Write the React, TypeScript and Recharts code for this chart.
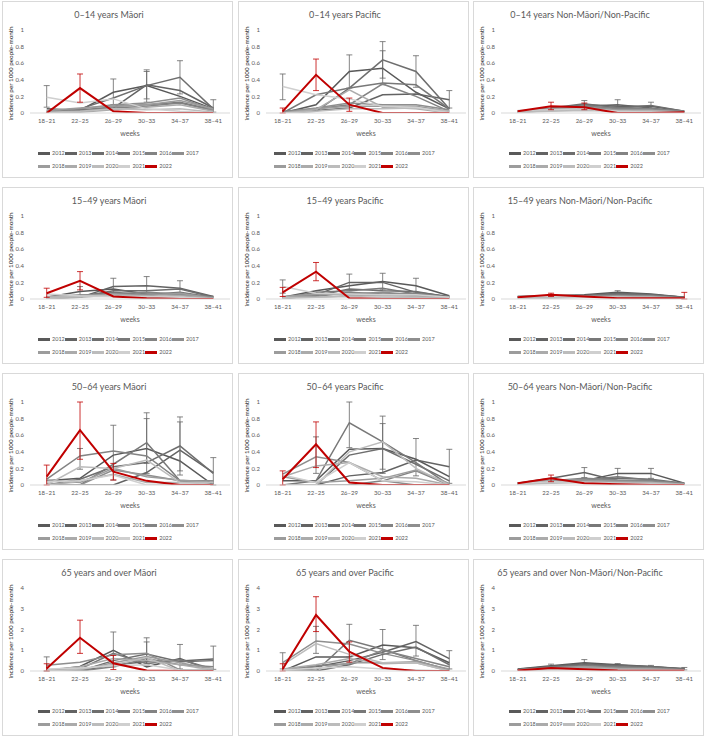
import React from "react";
import { ErrorBar, Legend, Line, LineChart, XAxis, YAxis } from "recharts";

type Err = [number, number] | null;

const weeks = ["18–21", "22–25", "26–29", "30–33", "34–37", "38–41"];
const years = [2012, 2013, 2014, 2015, 2016, 2017, 2018, 2019, 2020, 2021, 2022];
const yearColors = [
  "#595959", "#636363", "#6e6e6e", "#787878", "#838383", "#8e8e8e",
  "#9c9c9c", "#ababab", "#bcbcbc", "#cfcfcf", "#c00000",
];
const ticksToOne = [0, 0.2, 0.4, 0.6, 0.8, 1];
const ticksToFour = [0, 0.5, 1, 1.5, 2, 2.5, 3, 3.5, 4];

// one row per year, 2012 first, 2022 last
const maori0to14 = [
  [0.05, 0.03, 0.25, 0.33, 0.2, 0.05],
  [0.02, 0.04, 0.06, 0.34, 0.27, 0.06],
  [0.0, 0.05, 0.18, 0.33, 0.43, 0.05],
  [0.01, 0.02, 0.08, 0.1, 0.13, 0.04],
  [0.0, 0.03, 0.06, 0.08, 0.12, 0.03],
  [0.02, 0.05, 0.1, 0.12, 0.18, 0.04],
  [0.03, 0.06, 0.08, 0.1, 0.15, 0.05],
  [0.0, 0.01, 0.04, 0.07, 0.1, 0.02],
  [0.01, 0.02, 0.05, 0.04, 0.05, 0.01],
  [0.19, 0.12, 0.17, 0.05, 0.02, 0.0],
  [0.0, 0.3, 0.02, 0.0, 0.0, 0.0],
];
const maori0to14Err: Record<number, Err[]> = {
  2012: [null, null, [0.15, 0.16], [0.2, 0.19], null, null],
  2013: [null, null, null, [0.17, 0.16], null, [0.05, 0.1]],
  2014: [null, null, null, null, [0.2, 0.2], null],
  2021: [[0.12, 0.14], null, null, null, null, null],
  2022: [null, [0.17, 0.17], null, null, null, null],
};

const pacific0to14 = [
  [0.0, 0.1, 0.5, 0.54, 0.25, 0.05],
  [0.0, 0.03, 0.06, 0.22, 0.23, 0.16],
  [0.0, 0.02, 0.3, 0.64, 0.5, 0.05],
  [0.0, 0.22, 0.3, 0.36, 0.34, 0.05],
  [0.02, 0.05, 0.1, 0.35, 0.2, 0.02],
  [0.01, 0.06, 0.12, 0.1, 0.1, 0.04],
  [0.0, 0.05, 0.08, 0.08, 0.08, 0.02],
  [0.0, 0.04, 0.28, 0.07, 0.05, 0.0],
  [0.0, 0.02, 0.05, 0.05, 0.06, 0.02],
  [0.32, 0.22, 0.17, 0.08, 0.07, 0.0],
  [0.02, 0.46, 0.1, 0.0, 0.0, 0.0],
];
const pacific0to14Err: Record<number, Err[]> = {
  2012: [null, null, [0.2, 0.2], [0.2, 0.21], null, null],
  2013: [null, null, null, null, null, [0.1, 0.11]],
  2014: [null, null, null, [0.22, 0.22], [0.19, 0.19], null],
  2021: [[0.16, 0.15], null, null, null, null, null],
  2022: [[0.02, 0.04], [0.19, 0.19], [0.08, 0.08], null, null, null],
};

const other0to14 = [
  [0.02, 0.05, 0.1, 0.08, 0.08, 0.02],
  [0.01, 0.04, 0.08, 0.1, 0.06, 0.01],
  [0.02, 0.06, 0.11, 0.06, 0.09, 0.02],
  [0.01, 0.03, 0.05, 0.07, 0.05, 0.01],
  [0.02, 0.05, 0.09, 0.05, 0.05, 0.02],
  [0.01, 0.04, 0.07, 0.04, 0.04, 0.01],
  [0.02, 0.05, 0.06, 0.03, 0.03, 0.01],
  [0.01, 0.03, 0.04, 0.03, 0.03, 0.01],
  [0.01, 0.02, 0.03, 0.02, 0.02, 0.0],
  [0.03, 0.04, 0.05, 0.02, 0.01, 0.0],
  [0.02, 0.08, 0.07, 0.0, 0.0, 0.01],
];
const other0to14Err: Record<number, Err[]> = {
  2012: [null, null, null, [0.05, 0.08], [0.04, 0.05], null],
  2014: [null, null, [0.03, 0.04], null, null, null],
  2022: [null, [0.04, 0.05], [0.03, 0.05], null, null, null],
};

const maori15to49 = [
  [0.02, 0.09, 0.12, 0.06, 0.05, 0.03],
  [0.01, 0.02, 0.15, 0.16, 0.13, 0.03],
  [0.0, 0.03, 0.1, 0.1, 0.12, 0.02],
  [0.02, 0.04, 0.08, 0.05, 0.08, 0.02],
  [0.01, 0.03, 0.06, 0.08, 0.06, 0.02],
  [0.02, 0.05, 0.04, 0.06, 0.05, 0.01],
  [0.03, 0.04, 0.06, 0.04, 0.07, 0.01],
  [0.01, 0.02, 0.05, 0.03, 0.04, 0.01],
  [0.02, 0.03, 0.03, 0.02, 0.02, 0.0],
  [0.06, 0.04, 0.03, 0.03, 0.02, 0.0],
  [0.07, 0.22, 0.03, 0.01, 0.0, 0.0],
];
const maori15to49Err: Record<number, Err[]> = {
  2012: [null, [0.05, 0.06], null, null, null, null],
  2013: [null, null, [0.09, 0.1], [0.1, 0.11], [0.08, 0.09], null],
  2022: [[0.05, 0.06], [0.11, 0.11], null, null, null, null],
};

const pacific15to49 = [
  [0.02, 0.1, 0.16, 0.21, 0.16, 0.04],
  [0.0, 0.05, 0.2, 0.2, 0.08, 0.03],
  [0.02, 0.04, 0.12, 0.1, 0.09, 0.02],
  [0.01, 0.08, 0.1, 0.13, 0.06, 0.03],
  [0.02, 0.03, 0.08, 0.06, 0.07, 0.02],
  [0.01, 0.05, 0.06, 0.08, 0.05, 0.01],
  [0.03, 0.06, 0.05, 0.04, 0.04, 0.02],
  [0.01, 0.02, 0.04, 0.05, 0.03, 0.01],
  [0.02, 0.02, 0.03, 0.02, 0.02, 0.0],
  [0.15, 0.07, 0.06, 0.05, 0.05, 0.02],
  [0.08, 0.33, 0.01, 0.0, 0.0, 0.0],
];
const pacific15to49Err: Record<number, Err[]> = {
  2012: [null, null, null, [0.1, 0.1], [0.09, 0.09], null],
  2013: [null, null, [0.1, 0.1], null, null, null],
  2021: [[0.08, 0.08], null, null, null, null, null],
  2022: [[0.05, 0.06], [0.11, 0.11], null, null, null, null],
};

const other15to49 = [
  [0.03, 0.04, 0.05, 0.08, 0.06, 0.02],
  [0.02, 0.03, 0.04, 0.07, 0.05, 0.02],
  [0.03, 0.04, 0.04, 0.06, 0.05, 0.02],
  [0.02, 0.03, 0.04, 0.05, 0.04, 0.01],
  [0.02, 0.03, 0.03, 0.04, 0.04, 0.01],
  [0.02, 0.02, 0.03, 0.04, 0.03, 0.01],
  [0.02, 0.03, 0.03, 0.03, 0.03, 0.01],
  [0.01, 0.02, 0.02, 0.03, 0.02, 0.01],
  [0.01, 0.01, 0.02, 0.02, 0.02, 0.0],
  [0.03, 0.03, 0.02, 0.02, 0.01, 0.0],
  [0.02, 0.05, 0.03, 0.01, 0.01, 0.01],
];
const other15to49Err: Record<number, Err[]> = {
  2012: [null, null, null, [0.02, 0.02], null, null],
  2022: [null, [0.02, 0.02], null, null, null, [0.01, 0.07]],
};

const maori50to64 = [
  [0.05, 0.08, 0.36, 0.44, 0.29, 0.0],
  [0.0, 0.0, 0.0, 0.15, 0.42, 0.15],
  [0.0, 0.07, 0.22, 0.27, 0.47, 0.14],
  [0.0, 0.0, 0.25, 0.51, 0.05, 0.05],
  [0.07, 0.35, 0.41, 0.35, 0.05, 0.02],
  [0.02, 0.0, 0.18, 0.12, 0.05, 0.05],
  [0.06, 0.03, 0.2, 0.1, 0.06, 0.03],
  [0.0, 0.05, 0.13, 0.03, 0.03, 0.0],
  [0.0, 0.22, 0.2, 0.3, 0.03, 0.03],
  [0.04, 0.05, 0.12, 0.0, 0.02, 0.0],
  [0.1, 0.66, 0.16, 0.05, 0.0, 0.0],
];
const maori50to64Err: Record<number, Err[]> = {
  2012: [null, null, [0.3, 0.36], [0.3, 0.43], null, null],
  2013: [null, null, null, null, [0.3, 0.34], [0.15, 0.18]],
  2014: [null, null, null, null, [0.3, 0.35], null],
  2015: [null, null, null, [0.25, 0.29], null, null],
  2016: [null, [0.16, 0.09], null, null, null, null],
  2022: [[0.1, 0.14], [0.35, 0.34], [0.1, 0.1], null, null, null],
};

const pacific50to64 = [
  [0.05, 0.05, 0.43, 0.44, 0.31, 0.1],
  [0.0, 0.0, 0.11, 0.15, 0.3, 0.22],
  [0.0, 0.0, 0.36, 0.44, 0.25, 0.05],
  [0.0, 0.05, 0.75, 0.52, 0.27, 0.0],
  [0.0, 0.0, 0.0, 0.05, 0.17, 0.0],
  [0.13, 0.34, 0.27, 0.05, 0.0, 0.0],
  [0.1, 0.03, 0.05, 0.08, 0.18, 0.02],
  [0.1, 0.23, 0.27, 0.1, 0.08, 0.0],
  [0.0, 0.0, 0.4, 0.52, 0.2, 0.0],
  [0.12, 0.03, 0.27, 0.05, 0.04, 0.0],
  [0.07, 0.49, 0.03, 0.0, 0.0, 0.0],
];
const pacific50to64Err: Record<number, Err[]> = {
  2012: [null, null, null, [0.3, 0.39], [0.2, 0.25], null],
  2013: [null, null, null, null, null, [0.2, 0.21]],
  2014: [null, null, null, [0.25, 0.3], null, null],
  2015: [null, null, [0.3, 0.25], null, null, null],
  2017: [null, [0.2, 0.24], null, null, null, null],
  2022: [[0.07, 0.1], [0.28, 0.27], null, null, null, null],
};

const other50to64 = [
  [0.02, 0.05, 0.05, 0.14, 0.14, 0.02],
  [0.02, 0.08, 0.15, 0.05, 0.05, 0.01],
  [0.02, 0.04, 0.07, 0.08, 0.07, 0.02],
  [0.01, 0.03, 0.06, 0.1, 0.06, 0.01],
  [0.02, 0.05, 0.08, 0.06, 0.05, 0.02],
  [0.01, 0.04, 0.05, 0.05, 0.04, 0.01],
  [0.02, 0.06, 0.06, 0.04, 0.03, 0.01],
  [0.01, 0.03, 0.04, 0.03, 0.03, 0.01],
  [0.01, 0.02, 0.03, 0.02, 0.02, 0.0],
  [0.02, 0.04, 0.03, 0.02, 0.01, 0.0],
  [0.02, 0.08, 0.02, 0.01, 0.0, 0.0],
];
const other50to64Err: Record<number, Err[]> = {
  2012: [null, null, null, [0.06, 0.06], [0.06, 0.06], null],
  2013: [null, null, [0.06, 0.06], null, null, null],
  2022: [null, [0.04, 0.04], null, null, null, null],
};

const maori65plus = [
  [0.0, 0.22, 1.0, 0.2, 0.6, 0.0],
  [0.0, 0.0, 0.3, 0.45, 0.48, 0.58],
  [0.0, 0.0, 0.5, 0.82, 0.45, 0.5],
  [0.0, 0.1, 0.85, 0.35, 0.55, 0.1],
  [0.0, 0.0, 0.2, 0.6, 0.3, 0.2],
  [0.28, 0.42, 0.78, 0.85, 0.05, 0.05],
  [0.0, 0.05, 0.4, 0.7, 0.4, 0.1],
  [0.05, 0.2, 0.6, 0.5, 0.3, 0.05],
  [0.0, 0.1, 0.3, 0.65, 0.0, 0.15],
  [0.1, 0.15, 0.25, 0.3, 0.05, 0.0],
  [0.12, 1.6, 0.37, 0.02, 0.0, 0.0],
];
const maori65plusErr: Record<number, Err[]> = {
  2012: [null, null, [0.8, 0.88], null, [0.5, 0.68], null],
  2013: [null, null, null, null, null, [0.5, 0.62]],
  2014: [null, null, null, [0.5, 0.58], null, null],
  2017: [[0.28, 0.4], null, null, [0.6, 0.75], null, null],
  2022: [[0.12, 0.23], [0.75, 0.85], [0.3, 0.38], null, null, null],
};

const pacific65plus = [
  [0.0, 0.68, 0.68, 1.25, 1.12, 0.4],
  [0.0, 0.2, 0.5, 0.9, 1.42, 0.6],
  [0.0, 0.0, 0.3, 0.8, 1.15, 0.3],
  [0.0, 0.0, 1.48, 1.05, 0.5, 0.05],
  [0.05, 0.25, 0.35, 1.0, 0.6, 0.2],
  [0.4, 1.45, 1.3, 0.85, 0.5, 0.05],
  [0.0, 0.1, 0.4, 0.4, 0.45, 0.1],
  [0.1, 0.3, 0.6, 0.35, 0.4, 0.0],
  [0.3, 1.32, 0.8, 0.4, 0.4, 0.0],
  [0.05, 0.15, 0.2, 0.1, 0.05, 0.0],
  [0.1, 2.7, 0.93, 0.15, 0.0, 0.0],
];
const pacific65plusErr: Record<number, Err[]> = {
  2012: [null, null, null, [0.7, 0.75], null, [0.3, 0.58]],
  2013: [null, null, null, null, [0.7, 0.78], null],
  2015: [null, null, [0.8, 0.77], null, null, null],
  2017: [[0.3, 0.48], [0.6, 0.7], null, null, null, null],
  2022: [[0.1, 0.25], [0.8, 0.88], [0.5, 0.47], null, null, null],
};

const other65plus = [
  [0.1, 0.25, 0.4, 0.3, 0.22, 0.1],
  [0.08, 0.22, 0.35, 0.28, 0.2, 0.12],
  [0.06, 0.2, 0.3, 0.25, 0.2, 0.08],
  [0.05, 0.18, 0.25, 0.2, 0.15, 0.07],
  [0.06, 0.15, 0.2, 0.18, 0.15, 0.06],
  [0.04, 0.12, 0.18, 0.15, 0.12, 0.05],
  [0.05, 0.15, 0.22, 0.12, 0.1, 0.05],
  [0.03, 0.1, 0.15, 0.1, 0.08, 0.03],
  [0.02, 0.08, 0.1, 0.06, 0.05, 0.02],
  [0.03, 0.05, 0.06, 0.04, 0.03, 0.02],
  [0.02, 0.15, 0.08, 0.02, 0.01, 0.01],
];
const other65plusErr: Record<number, Err[]> = {
  2012: [null, [0.08, 0.08], [0.15, 0.15], [0.06, 0.06], [0.05, 0.05], [0.05, 0.07]],
};

const panels = [
  { title: "0–14 years Māori", values: maori0to14, errors: maori0to14Err, ticks: ticksToOne },
  { title: "0–14 years Pacific", values: pacific0to14, errors: pacific0to14Err, ticks: ticksToOne },
  { title: "0–14 years Non-Māori/Non-Pacific", values: other0to14, errors: other0to14Err, ticks: ticksToOne },
  { title: "15–49 years Māori", values: maori15to49, errors: maori15to49Err, ticks: ticksToOne },
  { title: "15–49 years Pacific", values: pacific15to49, errors: pacific15to49Err, ticks: ticksToOne },
  { title: "15–49 years Non-Māori/Non-Pacific", values: other15to49, errors: other15to49Err, ticks: ticksToOne },
  { title: "50–64 years Māori", values: maori50to64, errors: maori50to64Err, ticks: ticksToOne },
  { title: "50–64 years Pacific", values: pacific50to64, errors: pacific50to64Err, ticks: ticksToOne },
  { title: "50–64 years Non-Māori/Non-Pacific", values: other50to64, errors: other50to64Err, ticks: ticksToOne },
  { title: "65 years and over Māori", values: maori65plus, errors: maori65plusErr, ticks: ticksToFour },
  { title: "65 years and over Pacific", values: pacific65plus, errors: pacific65plusErr, ticks: ticksToFour },
  { title: "65 years and over Non-Māori/Non-Pacific", values: other65plus, errors: other65plusErr, ticks: ticksToFour },
];

const colLeft = [2, 238, 473];
const rowTop = [1, 187, 373, 559];
const PANEL_W = 231;
const PANEL_H = 177;

function buildRows(values: number[][], errors: Record<number, Err[]>) {
  return weeks.map((week, i) => {
    const row: Record<string, unknown> = { week };
    years.forEach((year, k) => {
      row[`y${year}`] = values[k][i];
      const e = errors[year]?.[i];
      if (e) row[`e${year}`] = e;
    });
    return row;
  });
}

function LegendRows({ payload }: any) {
  return (
    <div style={{ display: "flex", flexWrap: "wrap", width: 163 }}>
      {(payload || []).map((p: any) => (
        <div
          key={p.value}
          style={{ width: 26.8, height: 13, display: "flex", alignItems: "center", whiteSpace: "nowrap" }}
        >
          <span
            style={{
              display: "inline-block",
              flexShrink: 0,
              width: 12,
              height: p.value === "2022" ? 3 : 2.5,
              background: p.color,
              marginRight: 2,
            }}
          />
          <span style={{ fontSize: 5.5, color: "#595959", lineHeight: "13px" }}>{p.value}</span>
        </div>
      ))}
    </div>
  );
}

function YLabel({ viewBox }: any) {
  const x = viewBox.x + 10;
  const y = viewBox.y + viewBox.height / 2 + 2;
  return (
    <text
      x={x}
      y={y}
      transform={`rotate(-90 ${x} ${y})`}
      textAnchor="middle"
      fontSize={6.3}
      fontWeight={600}
      fill="#404040"
    >
      incidence per 1000 people-month
    </text>
  );
}

function Panel({ title, values, errors, ticks }: (typeof panels)[number]) {
  const rows = buildRows(values, errors);
  const top = ticks[ticks.length - 1];
  return (
    <>
      <div
        style={{
          position: "absolute",
          left: 0,
          top: 7,
          width: 212,
          textAlign: "center",
          fontSize: 9,
          color: "#595959",
          lineHeight: "12px",
          whiteSpace: "nowrap",
        }}
      >
        {title}
      </div>
      <LineChart
        width={PANEL_W - 2}
        height={PANEL_H - 2}
        data={rows}
        margin={{ top: 28, right: 2, left: 0, bottom: 40 }}
      >
        <XAxis
          dataKey="week"
          interval={0}
          height={24}
          padding={{ left: 16.7, right: 16.7 }}
          axisLine={{ stroke: "#d9d9d9" }}
          tickLine={false}
          tickSize={4}
          tickMargin={2}
          tick={{ fontSize: 6, fill: "#595959" }}
          label={{ value: "weeks", position: "insideBottom", offset: 1, fontSize: 7, fill: "#595959" }}
        />
        <YAxis
          width={27}
          domain={[0, top]}
          ticks={ticks}
          allowDataOverflow
          axisLine={false}
          tickLine={false}
          tickSize={4}
          tickMargin={2}
          tick={{ fontSize: 6, fill: "#595959" }}
          label={{ content: YLabel }}
        />
        <Legend
          layout="horizontal"
          verticalAlign="middle"
          align="center"
          wrapperStyle={{ top: 145, left: 35, width: 165 }}
          content={LegendRows}
        />
        {years.map((year, k) => (
          <Line
            key={year}
            dataKey={`y${year}`}
            name={String(year)}
            stroke={yearColors[k]}
            strokeWidth={year === 2022 ? 2 : 1.5}
            dot={false}
            activeDot={false}
            isAnimationActive={false}
          >
            {errors[year] ? (
              <ErrorBar
                dataKey={`e${year}`}
                width={3}
                strokeWidth={0.8}
                stroke={year === 2022 ? "#c00000" : "#666666"}
                direction="y"
              />
            ) : null}
          </Line>
        ))}
      </LineChart>
    </>
  );
}

export default function App() {
  return (
    <div
      style={{
        position: "absolute",
        left: 0,
        top: 0,
        width: 709,
        height: 738,
        background: "#ffffff",
        fontFamily: "Lato, 'Open Sans', sans-serif",
      }}
    >
      {panels.map((p, i) => (
        <div
          key={p.title}
          style={{
            position: "absolute",
            left: colLeft[i % 3],
            top: rowTop[Math.floor(i / 3)],
            width: PANEL_W,
            height: PANEL_H,
            border: "1px solid #d9d9d9",
            boxSizing: "border-box",
            background: "#ffffff",
          }}
        >
          <Panel {...p} />
        </div>
      ))}
    </div>
  );
}
